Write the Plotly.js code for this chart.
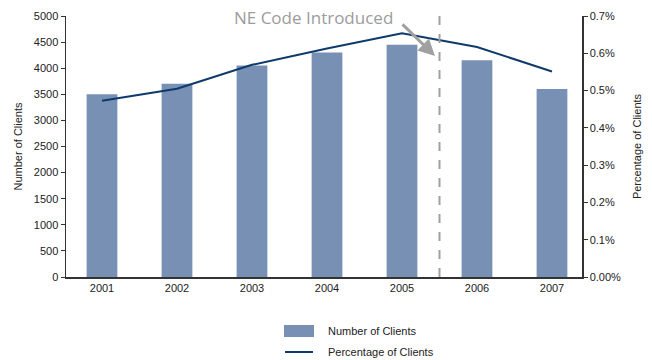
<!DOCTYPE html>
<html>
<head>
<meta charset="utf-8">
<script src="https://cdn.plot.ly/plotly-3.0.1.min.js"></script>
<style>html,body{margin:0;padding:0;background:#fff;}#chart{width:652px;height:360px;}</style>
</head>
<body>
<div id="chart"></div>
<script>
var years = ['2001','2002','2003','2004','2005','2006','2007'];
var clients = [3500, 3700, 4050, 4300, 4450, 4150, 3600];
var pctClients = [0.473, 0.505, 0.569, 0.613, 0.654, 0.617, 0.551];
var leftTicks = [0,500,1000,1500,2000,2500,3000,3500,4000,4500,5000];
var rightTickVals = [0,0.1,0.2,0.3,0.4,0.5,0.6,0.7];
var rightTickText = ['0.00%','0.1%','0.2%','0.3%','0.4%','0.5%','0.6%','0.7%'];
var seriesNames = ['Number of Clients', 'Percentage of Clients'];

var fnt = 'Liberation Sans Narrow, Arial Narrow, Liberation Sans, Arial, sans-serif';
var barColor = '#7990b5', lineColor = '#0d3a6b';

var traces = [
  {type:'bar', x: years, y: clients, name:seriesNames[0],
   marker:{color:barColor}, width:0.41, yaxis:'y'},
  {type:'scatter', mode:'lines', x: years, y: pctClients, name:seriesNames[1],
   line:{color:lineColor, width:2}, yaxis:'y2'}
];

var layout = {
  width:652, height:360,
  margin:{l:66, r:70, t:16, b:83},
  paper_bgcolor:'#fff', plot_bgcolor:'#fff',
  font:{family:fnt, size:11, color:'#222'},
  showlegend:false,
  xaxis:{type:'category', range:[-0.48, 6.4], showgrid:false, zeroline:false,
         showline:true, linecolor:'#333', linewidth:1.5, ticks:'',
         tickfont:{family:fnt, size:11, color:'#222'}},
  yaxis:{range:[0,5000], tickvals:leftTicks, showgrid:false, zeroline:false,
         showline:true, linecolor:'#333', linewidth:1.5, ticks:'outside', ticklen:4,
         tickcolor:'#333', tickfont:{family:fnt, size:11, color:'#222'},
         title:{text:'Number of Clients', standoff:9, font:{family:fnt, size:11, color:'#222'}}},
  yaxis2:{range:[0,0.7], overlaying:'y', side:'right', tickvals:rightTickVals, ticktext:rightTickText,
          showgrid:false, zeroline:false, showline:true, linecolor:'#333', linewidth:1.5,
          ticks:'outside', ticklen:4, tickcolor:'#333',
          tickfont:{family:fnt, size:11, color:'#222'},
          title:{text:'Percentage of Clients', standoff:13, font:{family:fnt, size:11, color:'#222'}}},
  shapes:[
    {type:'line', xref:'x', yref:'paper', x0:4.5, x1:4.5, y0:0, y1:1,
     line:{color:'#a0a0a0', width:2, dash:'dash'}},
    {type:'rect', xref:'paper', yref:'paper', x0:0.4225, x1:0.4806, y0:-0.1839, y1:-0.2299,
     fillcolor:barColor, line:{width:0}},
    {type:'line', xref:'paper', yref:'paper', x0:0.4244, x1:0.4787, y0:-0.2874, y1:-0.2874,
     line:{color:lineColor, width:2}}
  ],
  annotations:[
    {xref:'x', yref:'y', x:2.82, y:4962, text:'NE Code Introduced', showarrow:false,
     font:{family:'Open Sans, sans-serif', size:17, color:'#9c9c9c'}},
    {xref:'x', yref:'y', x:4.44, y:4234, ax:-34, ay:-33, text:'', showarrow:true,
     arrowhead:2, arrowsize:1.1, arrowwidth:3, arrowcolor:'#a0a0a0'},
    {xref:'paper', yref:'paper', x:0.5039, y:-0.2069, xanchor:'left', yanchor:'middle',
     text:seriesNames[0], showarrow:false, font:{family:fnt, size:11, color:'#222'}},
    {xref:'paper', yref:'paper', x:0.5039, y:-0.2874, xanchor:'left', yanchor:'middle',
     text:seriesNames[1], showarrow:false, font:{family:fnt, size:11, color:'#222'}}
  ]
};

Plotly.newPlot('chart', traces, layout, {displayModeBar:false, staticPlot:true});
</script>
</body>
</html>
